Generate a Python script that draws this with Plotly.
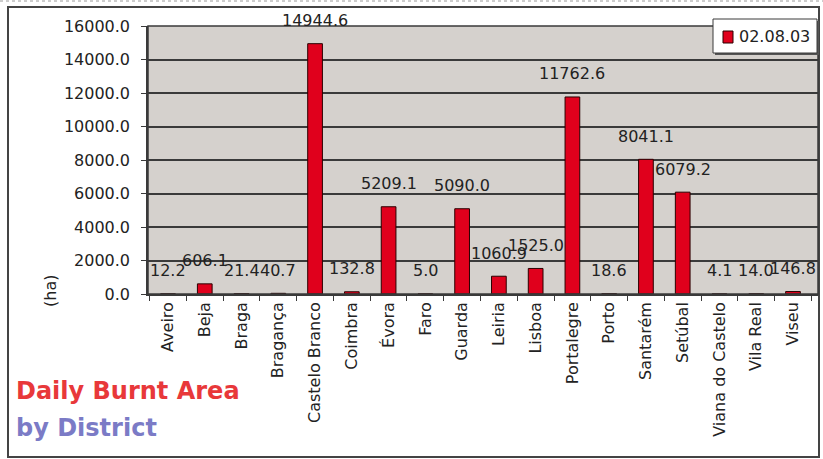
import plotly.graph_objects as go

# District burnt area on 02.08.03 (hectares)
districts = ["Aveiro", "Beja", "Braga", "Bragança", "Castelo Branco", "Coimbra",
             "Évora", "Faro", "Guarda", "Leiria", "Lisboa", "Portalegre", "Porto",
             "Santarém", "Setúbal", "Viana do Castelo", "Vila Real", "Viseu"]
burnt_ha = [12.2, 606.1, 21.4, 40.7, 14944.6, 132.8,
            5209.1, 5.0, 5090.0, 1060.9, 1525.0, 11762.6, 18.6,
            8041.1, 6079.2, 4.1, 14.0, 146.8]
series_name = "02.08.03"
y_ticks = [0, 2000, 4000, 6000, 8000, 10000, 12000, 14000, 16000]

W, H = 823, 459
PL, PR, PT, PB = 148, 818, 26, 294


def px(x):
    return (x - PL) / (PR - PL)


def py(y):
    return (PB - y) / (PB - PT)


FONT = "DejaVu Sans"
TXT = "#222222"
DARK = "#3a3a3a"
BAR_RED = "#e0001c"

fig = go.Figure()
fig.add_trace(go.Bar(
    x=districts, y=burnt_ha, name=series_name,
    marker=dict(color=BAR_RED, line=dict(color="#2a0000", width=1)),
    width=0.4, showlegend=False,
))

# value labels above each bar
annotations = []
for d, v in zip(districts, burnt_ha):
    annotations.append(dict(
        x=d, y=v, xref="x", yref="y", text=f"{v:.1f}", showarrow=False,
        yanchor="middle", yshift=23, font=dict(family=FONT, size=16, color=TXT),
    ))

# axis title and caption
annotations.append(dict(
    x=px(50), y=py(291), xref="paper", yref="paper", text="(ha)", textangle=-90,
    showarrow=False, xanchor="center", yanchor="middle",
    font=dict(family=FONT, size=16, color=TXT),
))
annotations.append(dict(
    x=px(14), y=py(391), xref="paper", yref="paper", text="<b>Daily Burnt Area</b>",
    showarrow=False, xanchor="left", yanchor="middle",
    font=dict(family=FONT, size=24, color="#e8383a"),
))
annotations.append(dict(
    x=px(14), y=py(428), xref="paper", yref="paper", text="<b>by District</b>",
    showarrow=False, xanchor="left", yanchor="middle",
    font=dict(family=FONT, size=24, color="#7b7bc6"),
))
# legend entry text
annotations.append(dict(
    x=px(737), y=py(37), xref="paper", yref="paper", text=series_name,
    showarrow=False, xanchor="left", yanchor="middle",
    font=dict(family=FONT, size=16, color=TXT),
))

shapes = [
    # outer chart frame
    dict(type="rect", xref="paper", yref="paper",
         x0=px(8), x1=px(819), y0=py(457), y1=py(7),
         line=dict(color="#444444", width=2), layer="below"),
    # dotted strip along the very top
    dict(type="line", xref="paper", yref="paper",
         x0=px(0), x1=px(823), y0=py(1), y1=py(1),
         line=dict(color="#9a9a9a", width=1, dash="dot")),
    # plot area border
    dict(type="rect", xref="paper", yref="paper",
         x0=0, x1=1, y0=0, y1=1,
         line=dict(color=DARK, width=1.5)),
    # legend box with a light drop shadow
    dict(type="rect", xref="paper", yref="paper",
         x0=px(715), x1=px(819), y0=py(55), y1=py(21),
         line=dict(width=0), fillcolor="#555555"),
    dict(type="rect", xref="paper", yref="paper",
         x0=px(713), x1=px(817), y0=py(53), y1=py(19),
         line=dict(color=DARK, width=1), fillcolor="white"),
    # legend key
    dict(type="rect", xref="paper", yref="paper",
         x0=px(723), x1=px(733), y0=py(43), y1=py(31),
         line=dict(color="#2a0000", width=1), fillcolor=BAR_RED),
]

fig.update_layout(
    width=W, height=H,
    margin=dict(l=PL, r=W - PR, t=PT, b=H - PB, pad=0),
    paper_bgcolor="white",
    plot_bgcolor="#d5d1cd",
    font=dict(family=FONT, size=16, color=TXT),
    annotations=annotations,
    shapes=shapes,
    showlegend=False,
)

fig.update_xaxes(
    type="category", tickangle=-90, tickson="boundaries",
    ticks="outside", ticklen=5, tickcolor=DARK,
    showline=True, linecolor=DARK, linewidth=1.5,
    tickfont=dict(family=FONT, size=16, color=TXT),
    showgrid=False,
)
fig.update_yaxes(
    range=[0, 16000], tickvals=y_ticks, tickformat=".1f",
    ticks="outside", ticklen=5, tickcolor=DARK,
    showline=True, linecolor=DARK, linewidth=1.5,
    showgrid=True, gridcolor=DARK, gridwidth=1.5,
    zeroline=False,
    tickfont=dict(family=FONT, size=16, color=TXT),
    ticklabelstandoff=8,
)

fig.write_html("out.html")
